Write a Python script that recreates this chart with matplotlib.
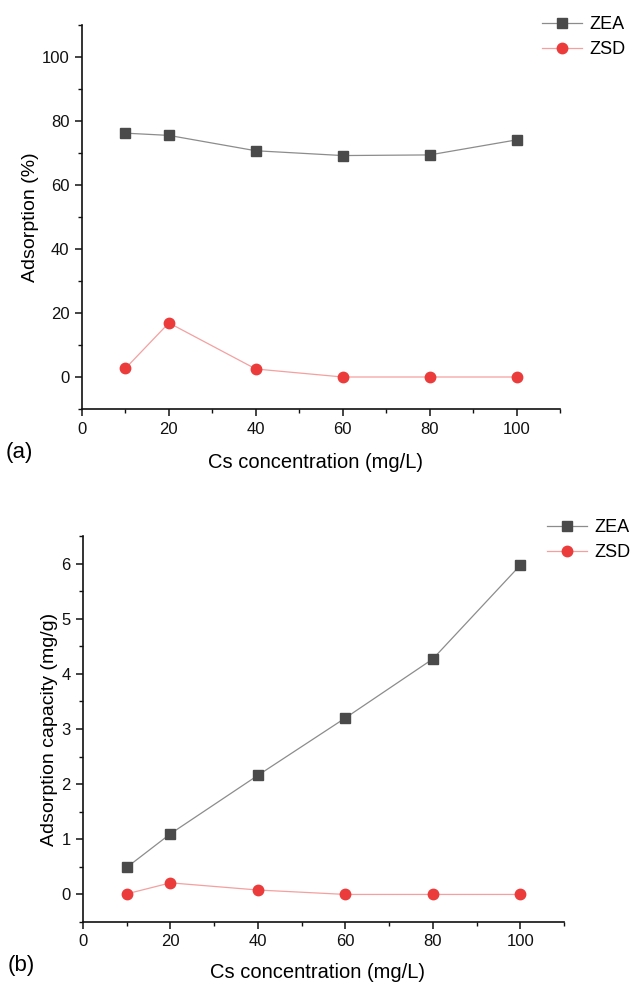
import matplotlib
matplotlib.use("Agg")
import matplotlib.pyplot as plt
from matplotlib.ticker import MultipleLocator

plt.rcParams['font.family'] = ['Liberation Sans', 'DejaVu Sans']

conc = [10, 20, 40, 60, 80, 100]
zea_pct = [76.2, 75.5, 70.7, 69.2, 69.4, 74.1]
zsd_pct = [2.7, 16.9, 2.5, 0.0, 0.0, 0.0]
zea_cap = [0.49, 1.10, 2.16, 3.20, 4.27, 5.97]
zsd_cap = [0.01, 0.21, 0.08, 0.0, 0.0, 0.0]
series_names = ["ZEA", "ZSD"]
xlabel = "Cs concentration (mg/L)"
ylabels = ["Adsorption (%)", "Adsorption capacity (mg/g)"]
panel_tags = ["(a)", "(b)"]

W, H = 635, 982
fig = plt.figure(figsize=(W / 100, H / 100), dpi=100)

def box(l, t, r, b):
    return [l / W, 1 - b / H, (r - l) / W, (b - t) / H]

ax1 = fig.add_axes(box(82, 25, 560, 409))
ax2 = fig.add_axes(box(83, 536, 564, 922))

zea_marker = dict(color='#8c8c8c', lw=0.9, marker='s', ms=7,
                  mfc='#4a4a4a', mec='#4a4a4a')
zsd_marker = dict(color='#f4a0a0', lw=0.9, marker='o', ms=7.5,
                  mfc='#ec3b3b', mec='#ec3b3b')

for ax, ze, zs, ylim, ymaj, ymin in [
    (ax1, zea_pct, zsd_pct, (-10, 110), 20, 10),
    (ax2, zea_cap, zsd_cap, (-0.5, 6.5), 1, 0.5),
]:
    ax.plot(conc, ze, label=series_names[0], **zea_marker)
    ax.plot(conc, zs, label=series_names[1], **zsd_marker)
    ax.set_xlim(0, 110)
    ax.set_ylim(*ylim)
    ax.xaxis.set_major_locator(MultipleLocator(20))
    ax.xaxis.set_minor_locator(MultipleLocator(10))
    ax.yaxis.set_major_locator(MultipleLocator(ymaj))
    ax.yaxis.set_minor_locator(MultipleLocator(ymin))
    for s in ['top', 'right']:
        ax.spines[s].set_visible(False)
    for s in ['left', 'bottom']:
        ax.spines[s].set_linewidth(1.2)
        ax.spines[s].set_color('#111111')
    ax.tick_params(which='major', direction='out', length=5, width=1.1,
                   labelsize=12, colors='#111111', pad=4)
    ax.tick_params(which='minor', direction='out', length=3, width=1.0,
                   colors='#111111')

ax1.set_ylabel(ylabels[0], fontsize=14, labelpad=2)
ax2.set_ylabel(ylabels[1], fontsize=14, labelpad=2)

fig.text(315 / W, 1 - 462 / H, xlabel, ha='center', va='center', fontsize=14.5)
fig.text(318 / W, 1 - 973 / H, xlabel, ha='center', va='center', fontsize=14.5)
fig.text(6 / W, 1 - 453 / H, panel_tags[0], ha='left', va='center', fontsize=16)
fig.text(8 / W, 1 - 966 / H, panel_tags[1], ha='left', va='center', fontsize=16)

leg_kw = dict(frameon=False, fontsize=13, handlelength=2.2, handletextpad=0.4,
              labelspacing=0.45, borderaxespad=0)
ax1.legend(loc='upper left', bbox_to_anchor=(535 / W, 1 - 9 / H),
           bbox_transform=fig.transFigure, **leg_kw)
ax2.legend(loc='upper left', bbox_to_anchor=(540 / W, 1 - 512 / H),
           bbox_transform=fig.transFigure, **leg_kw)

fig.savefig("out.png", dpi=100, facecolor='white')
